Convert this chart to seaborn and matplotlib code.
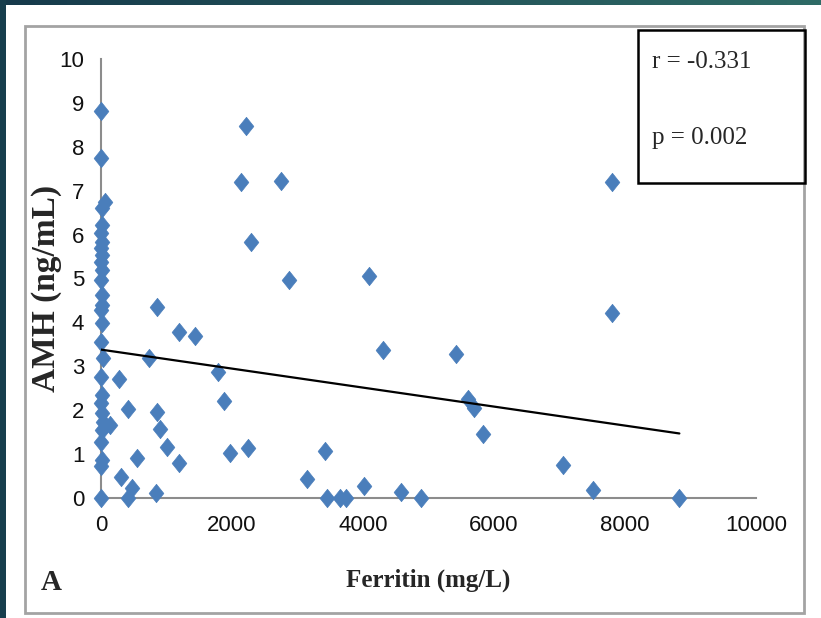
import numpy as np
import pandas as pd
import seaborn as sns
import matplotlib.pyplot as plt
from matplotlib import font_manager
from matplotlib.patches import Rectangle
from matplotlib.path import Path
from matplotlib.colors import LinearSegmentedColormap

# ferritin (mg/L) and AMH (ng/mL)
ferritin = [
    0, 0, 60, 10, 20, 0, 10, 0, 20, 0, 10, 0, 20, 10, 0, 20, 0, 30, 0, 10,
    0, 20, 30, 10, 0, 20, 0, 0, 137, 275, 412, 305, 412, 473, 550, 740, 855,
    855, 900, 1008, 840, 1191, 1191, 1435, 1787, 1878, 1970, 2245, 2138, 2210,
    2290, 2750, 2870, 3146, 3420, 3451, 3650, 3741, 4016, 4094, 4310, 4581,
    4886, 5421, 5604, 5696, 5833, 7055, 7513, 7803, 7803, 8826,
]
amh = [
    8.82, 7.74, 6.75, 6.6, 6.22, 6.04, 5.83, 5.69, 5.53, 5.37, 5.19, 4.97,
    4.62, 4.4, 4.28, 3.98, 3.55, 3.19, 2.76, 2.35, 2.16, 1.94, 1.73, 1.55,
    1.28, 0.87, 0.72, 0.0, 1.66, 2.71, 2.03, 0.48, 0.0, 0.23, 0.91, 3.19, 4.35,
    1.96, 1.58, 1.16, 0.12, 0.79, 3.78, 3.68, 2.87, 2.22, 1.02, 1.13, 7.2, 8.48,
    5.83, 7.22, 4.97, 0.44, 1.07, 0.0, 0.0, 0.0, 0.28, 5.06, 3.36, 0.13,
    0.0, 3.28, 2.25, 2.06, 1.45, 0.75, 0.18, 7.2, 4.21, 0.0,
]
# trend line end points as drawn
trend_x = [0, 8830]
trend_y = [3.38, 1.47]
x_ticks = [0, 2000, 4000, 6000, 8000, 10000]
y_ticks = list(range(0, 11))

df = pd.DataFrame({"ferritin": ferritin, "amh": amh})
trend = pd.DataFrame({"ferritin": trend_x, "amh": trend_y})

available = {f.name for f in font_manager.fontManager.ttflist}
tick_font = "Liberation Sans Narrow" if "Liberation Sans Narrow" in available else "Liberation Sans"
serif = "Liberation Serif"

sns.set_style("white")

fig = plt.figure(figsize=(8.21, 6.18), dpi=100)
W, H = 821, 618

# dark teal slide border (left and top)
cmap = LinearSegmentedColormap.from_list("teal", ["#163a4b", "#2f6b66"])
top = fig.add_axes([0, 1 - 5 / H, 1, 5 / H])
top.imshow(np.linspace(0, 1, 256)[None, :], aspect="auto", cmap=cmap)
top.axis("off")
fig.patches.append(Rectangle((0, 0), 6 / W, 1, transform=fig.transFigure,
                             facecolor="#173e4d", edgecolor="none"))
# grey outer frame
fig.patches.append(Rectangle((25 / W, 1 - 613 / H), 779 / W, 587 / H,
                             transform=fig.transFigure, fill=False,
                             edgecolor="#a3a3a3", lw=2))

ax = fig.add_axes([101 / W, 1 - 498 / H, 655 / W, 439 / H])

diamond = Path([(0, 1), (0.8, 0), (0, -1), (-0.8, 0), (0, 1)],
               [Path.MOVETO, Path.LINETO, Path.LINETO, Path.LINETO, Path.CLOSEPOLY])
sns.scatterplot(data=df, x="ferritin", y="amh", ax=ax, marker=diamond, s=175,
                color="#4a7ebb", edgecolor="#4a7ebb", linewidth=0.5,
                clip_on=False, zorder=3)
sns.lineplot(data=trend, x="ferritin", y="amh", ax=ax, color="black", lw=1.6,
             zorder=4)

ax.set_xlim(0, 10000)
ax.set_ylim(0, 10)
ax.set_xticks(x_ticks)
ax.set_yticks(y_ticks)
for s in ["top", "right"]:
    ax.spines[s].set_visible(False)
for s in ["left", "bottom"]:
    ax.spines[s].set_color("#8c8c8c")
    ax.spines[s].set_linewidth(1.5)
ax.tick_params(axis="both", direction="out", length=7, width=1.5,
               color="#8c8c8c", labelsize=16, labelcolor="#111111")
ax.tick_params(axis="x", pad=5)
ax.tick_params(axis="y", pad=5)
for lab in ax.get_xticklabels() + ax.get_yticklabels():
    lab.set_family(tick_font)

ax.set_xlabel("Ferritin (mg/L)", family=serif, fontweight="bold", fontsize=18,
              va="center")
ax.xaxis.set_label_coords(0.5, (498 - 580) / 439)
ax.set_ylabel("AMH (ng/mL)", family=serif, fontweight="bold", fontsize=24,
              va="center")
ax.yaxis.set_label_coords((46 - 101) / 655, (498 - 288) / 439)

fig.text(41 / W, 1 - 582 / H, "A", family=serif, fontweight="bold",
         fontsize=21, va="center", ha="left")

# r / p box
fig.patches.append(Rectangle((638 / W, 1 - 183 / H), 167 / W, 153 / H,
                             transform=fig.transFigure, fill=False,
                             edgecolor="black", lw=1.8))
fig.text(652 / W, 1 - 62 / H, "r = -0.331", family=serif, fontsize=18,
         va="center", ha="left")
fig.text(652 / W, 1 - 138 / H, "p = 0.002", family=serif, fontsize=18,
         va="center", ha="left")

fig.savefig("out.png", dpi=100)
plt.close(fig)
